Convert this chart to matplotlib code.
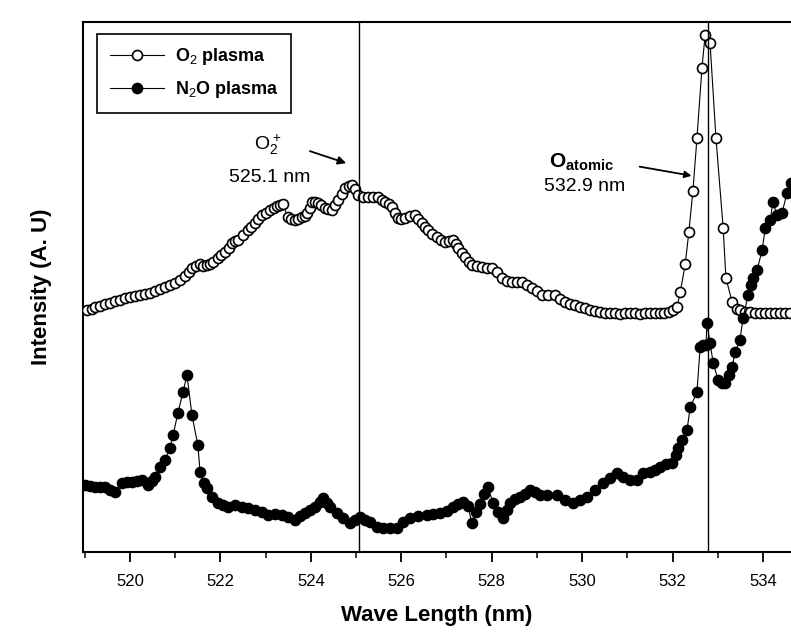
import matplotlib
matplotlib.use("Agg")
import matplotlib.pyplot as plt
from matplotlib.ticker import MultipleLocator

plt.rcParams['font.family'] = ['Liberation Sans', 'DejaVu Sans']
plt.rcParams['mathtext.fontset'] = 'custom'
plt.rcParams['mathtext.rm'] = 'Liberation Sans'
plt.rcParams['mathtext.bf'] = 'Liberation Sans:bold'

# ---------------- data ----------------
o2_x = [519.05, 519.15, 519.23, 519.34, 519.45, 519.56, 519.67, 519.78, 519.89, 520.00,
        520.11, 520.22, 520.33, 520.44, 520.55, 520.66, 520.77, 520.88, 521.00, 521.11,
        521.22, 521.30, 521.37, 521.46, 521.55, 521.62, 521.70, 521.77, 521.84, 521.95,
        522.02, 522.10, 522.18, 522.26, 522.33, 522.39, 522.50, 522.61, 522.68, 522.76,
        522.84, 522.92, 523.01, 523.10, 523.18, 523.25, 523.32, 523.38, 523.49, 523.57,
        523.65, 523.72, 523.80, 523.86, 523.92, 523.98, 524.03, 524.10, 524.16, 524.23,
        524.31, 524.39, 524.47, 524.53, 524.60, 524.68, 524.76, 524.84, 524.91, 524.98,
        525.04, 525.15, 525.26, 525.37, 525.49, 525.57, 525.64, 525.72, 525.80, 525.87,
        525.93, 526.00, 526.08, 526.19, 526.30, 526.38, 526.46, 526.53, 526.59, 526.69,
        526.79, 526.88, 526.97, 527.05, 527.14, 527.20, 527.26, 527.34, 527.41, 527.49,
        527.57, 527.68, 527.79, 527.90, 528.01, 528.12, 528.23, 528.34, 528.45, 528.56,
        528.67, 528.78, 528.89, 529.00, 529.11, 529.25, 529.40, 529.51, 529.62, 529.73,
        529.84, 529.95, 530.06, 530.17, 530.28, 530.39, 530.50, 530.62, 530.73, 530.84,
        530.95, 531.06, 531.17, 531.28, 531.39, 531.50, 531.61, 531.72, 531.82, 531.92,
        532.02, 532.10, 532.17, 532.28, 532.36, 532.45, 532.54, 532.65, 532.72, 532.83,
        532.96, 533.12, 533.18, 533.32, 533.42, 533.49, 533.60, 533.71, 533.82, 533.94,
        534.05, 534.16, 534.27, 534.38, 534.49, 534.60]
o2_y = [46.2, 46.5, 46.8, 47.1, 47.4, 47.6, 47.9, 48.2, 48.5, 48.7,
        48.9, 49.0, 49.2, 49.5, 49.8, 50.2, 50.6, 51.0, 51.3, 52.0,
        52.6, 53.4, 54.2, 54.6, 54.9, 54.6, 54.7, 55.0, 55.3, 56.0,
        56.6, 57.2, 58.0, 58.9, 59.2, 59.4, 60.4, 61.3, 62.0, 62.6,
        63.4, 64.2, 64.6, 65.1, 65.5, 65.8, 66.0, 66.2, 63.8, 63.4,
        63.2, 63.4, 63.8, 64.0, 64.5, 65.6, 66.6, 66.6, 66.4, 66.0,
        65.5, 65.3, 65.1, 66.0, 67.0, 68.2, 69.2, 69.6, 69.8, 69.0,
        67.9, 67.6, 67.5, 67.6, 67.5, 67.1, 66.6, 66.2, 65.7, 64.6,
        63.6, 63.4, 63.6, 64.0, 64.2, 63.5, 62.6, 62.0, 61.3, 60.6,
        60.0, 59.5, 59.1, 59.3, 59.4, 58.7, 57.9, 57.0, 56.2, 55.4,
        54.7, 54.5, 54.3, 54.2, 54.2, 53.4, 52.3, 51.8, 51.5, 51.5,
        51.5, 51.0, 50.4, 49.8, 49.1, 49.1, 49.1, 48.4, 47.7, 47.4,
        47.2, 46.9, 46.6, 46.3, 46.0, 45.8, 45.7, 45.7, 45.7, 45.6,
        45.7, 45.7, 45.7, 45.6, 45.7, 45.7, 45.7, 45.7, 45.7, 45.9,
        46.3, 46.8, 49.6, 54.9, 60.9, 68.7, 78.7, 91.9, 98.1, 96.6,
        78.7, 61.7, 52.3, 47.7, 46.5, 46.2, 45.9, 45.8, 45.7, 45.7,
        45.7, 45.7, 45.7, 45.7, 45.7, 45.7]

n2o_x = [519.00, 519.12, 519.23, 519.34, 519.45, 519.56, 519.67, 519.82, 519.93, 520.04,
         520.15, 520.27, 520.40, 520.49, 520.55, 520.66, 520.77, 520.88, 520.95, 521.06,
         521.17, 521.26, 521.37, 521.50, 521.55, 521.64, 521.70, 521.81, 521.95, 522.06,
         522.17, 522.32, 522.48, 522.61, 522.76, 522.92, 523.05, 523.21, 523.36, 523.49,
         523.65, 523.76, 523.87, 523.98, 524.09, 524.20, 524.27, 524.36, 524.42, 524.58,
         524.71, 524.87, 524.98, 525.09, 525.20, 525.31, 525.46, 525.60, 525.75, 525.91,
         526.04, 526.19, 526.37, 526.57, 526.70, 526.86, 527.01, 527.14, 527.26, 527.37,
         527.48, 527.56, 527.65, 527.74, 527.83, 527.92, 528.03, 528.14, 528.25, 528.34,
         528.41, 528.52, 528.63, 528.74, 528.85, 528.96, 529.07, 529.22, 529.44, 529.62,
         529.80, 529.95, 530.11, 530.28, 530.46, 530.62, 530.77, 530.90, 531.06, 531.22,
         531.35, 531.50, 531.61, 531.72, 531.86, 531.99, 532.08, 532.12, 532.21, 532.32,
         532.39, 532.54, 532.61, 532.67, 532.74, 532.76, 532.83, 532.90, 533.01, 533.10,
         533.16, 533.25, 533.32, 533.38, 533.49, 533.56, 533.67, 533.74, 533.78, 533.87,
         533.98, 534.05, 534.16, 534.22, 534.31, 534.42, 534.53, 534.62]
n2o_y = [13.2, 13.0, 12.8, 12.8, 12.8, 12.3, 11.9, 13.6, 13.8, 13.8,
         14.0, 14.2, 13.2, 14.0, 14.7, 16.6, 17.9, 20.2, 22.6, 26.8,
         30.8, 34.0, 26.4, 20.8, 15.7, 13.6, 12.6, 10.9, 9.8, 9.4,
         9.1, 9.4, 9.1, 8.9, 8.5, 8.1, 7.5, 7.7, 7.5, 7.2,
         6.6, 7.4, 7.9, 8.5, 9.1, 10.0, 10.8, 9.8, 9.1, 7.9,
         7.0, 6.0, 6.6, 7.2, 6.6, 6.2, 5.3, 5.1, 5.1, 5.1,
         6.2, 7.0, 7.4, 7.5, 7.7, 7.9, 8.3, 9.1, 9.6, 10.0,
         9.2, 6.0, 8.1, 9.6, 11.5, 12.8, 9.8, 8.1, 7.0, 8.5,
         9.8, 10.6, 10.9, 11.5, 12.3, 11.9, 11.3, 11.3, 11.3, 10.4,
         9.8, 10.4, 10.9, 12.3, 13.6, 14.5, 15.5, 14.7, 14.2, 14.2,
         15.5, 15.7, 16.0, 16.6, 17.2, 17.4, 18.9, 20.2, 21.7, 23.6,
         27.9, 30.8, 39.2, 39.6, 39.6, 43.8, 40.0, 36.2, 33.0, 32.5,
         32.5, 34.0, 35.5, 38.3, 40.6, 44.7, 49.1, 50.9, 52.3, 53.8,
         57.5, 61.7, 63.2, 66.6, 64.2, 64.5, 68.3, 70.2]

x_ticks = [520, 522, 524, 526, 528, 530, 532, 534]
ref_lines = [525.07, 532.78]

# ---------------- figure ----------------
fig = plt.figure(figsize=(7.91, 6.33), dpi=100)
ax = fig.add_axes([83/791, 1 - 552/633, 1 - 83/791, (552 - 22)/633])

ax.plot(o2_x, o2_y, '-', color='black', lw=0.8, marker='o', ms=7.2,
        mfc='white', mec='black', mew=1.2, label=r'O$_2$ plasma', zorder=3)
ax.plot(n2o_x, n2o_y, '-', color='black', lw=0.8, marker='o', ms=7.2,
        mfc='black', mec='black', mew=1.2, label=r'N$_2$O plasma', zorder=3)

for xv in ref_lines:
    ax.axvline(xv, color='black', lw=1.0, zorder=4)

ax.set_xlim(518.96, 534.62)
ax.set_ylim(0.6, 100.6)
ax.set_xticks(x_ticks)
ax.xaxis.set_minor_locator(MultipleLocator(1))
ax.set_yticks([])
ax.tick_params(axis='x', which='major', direction='out', length=7, width=1.3,
               labelsize=12, pad=9, top=False)
ax.tick_params(axis='x', which='minor', direction='out', length=4, width=1.1, top=False)
for s in ['left', 'bottom', 'top']:
    ax.spines[s].set_linewidth(1.5)
ax.spines['right'].set_visible(False)

ax.set_xlabel('Wave Length (nm)', fontsize=16, fontweight='bold', labelpad=11)
ax.set_ylabel('Intensity (A. U)', fontsize=16, fontweight='bold', labelpad=22)

leg = ax.legend(loc='upper left', bbox_to_anchor=(0.02, 0.978), borderaxespad=0,
                fancybox=False, edgecolor='black', framealpha=1,
                prop={'weight': 'bold', 'size': 13}, handlelength=3.0,
                handletextpad=0.6, borderpad=0.7, labelspacing=0.65)
leg.get_frame().set_linewidth(1.2)

# annotations
ax.text(523.05, 77.4, r'$\mathregular{O_2^+}$', fontsize=14, ha='center', va='center')
ax.text(523.10, 71.3, '525.1 nm', fontsize=14, ha='center', va='center')
ax.annotate('', xy=(524.84, 73.8), xytext=(523.92, 76.4),
            arrowprops=dict(arrowstyle='-|>', color='black', lw=1.3,
                            mutation_scale=12))

ax.text(529.98, 74.2, r'O$_{\mathbf{atomic}}$', fontsize=15, ha='center', va='center',
        fontweight='bold')
ax.text(530.06, 69.6, '532.9 nm', fontsize=14, ha='center', va='center')
ax.annotate('', xy=(532.48, 71.5), xytext=(531.21, 73.4),
            arrowprops=dict(arrowstyle='-|>', color='black', lw=1.3,
                            mutation_scale=10))

fig.savefig('out.png', dpi=100)
